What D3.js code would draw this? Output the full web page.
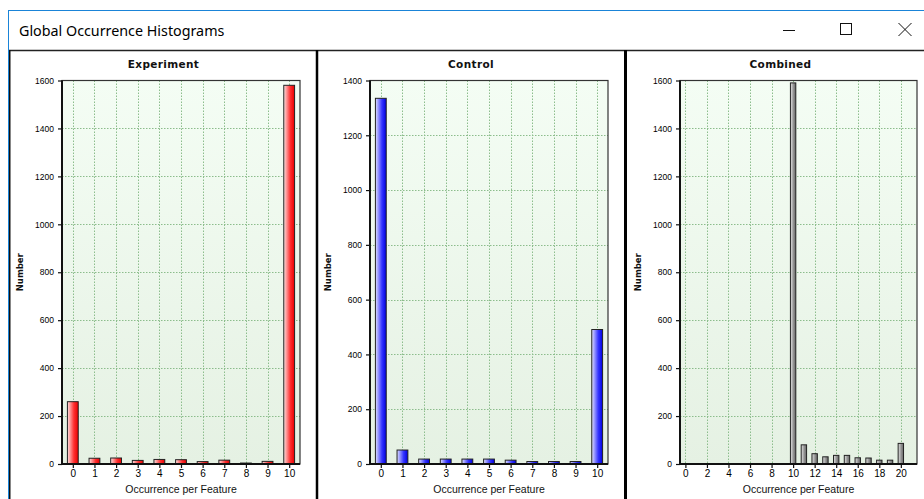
<!DOCTYPE html>
<html>
<head>
<meta charset="utf-8">
<script src="https://cdn.jsdelivr.net/npm/d3@7"></script>
<style>
  html, body { margin: 0; padding: 0; background: #ffffff; }
  svg { display: block; }
</style>
</head>
<body>
<svg id="chart" width="924" height="499"></svg>
<script>
// ---------------- DATA ----------------
const windowTitle = "Global Occurrence Histograms";
const panelTitles = ["Experiment", "Control", "Combined"];
const xAxisTitle = "Occurrence per Feature";
const yAxisTitle = "Number";

const expCategories = [0, 1, 2, 3, 4, 5, 6, 7, 8, 9, 10];
const expValues     = [260, 24, 25, 15, 19, 18, 10, 16, 4, 11, 1580];

const ctrlCategories = [0, 1, 2, 3, 4, 5, 6, 7, 8, 9, 10];
const ctrlValues     = [1335, 51, 18, 18, 18, 18, 14, 9, 9, 9, 491];

const combCategories = [0, 1, 2, 3, 4, 5, 6, 7, 8, 9, 10, 11, 12, 13, 14, 15, 16, 17, 18, 19, 20];
const combValues     = [0, 0, 0, 0, 0, 0, 0, 0, 0, 0, 1590, 80, 43, 30, 36, 36, 26, 25, 16, 16, 86];

const expYTicks  = [0, 200, 400, 600, 800, 1000, 1200, 1400, 1600];
const ctrlYTicks = [0, 200, 400, 600, 800, 1000, 1200, 1400];
const combYTicks = [0, 200, 400, 600, 800, 1000, 1200, 1400, 1600];

const expXTicks  = [0, 1, 2, 3, 4, 5, 6, 7, 8, 9, 10];
const ctrlXTicks = [0, 1, 2, 3, 4, 5, 6, 7, 8, 9, 10];
const combXTicks = [0, 2, 4, 6, 8, 10, 12, 14, 16, 18, 20];

// ---------------- DRAW ----------------
(function () {
const svg = d3.select("#chart");
const defs = svg.append("defs");

function hGrad(id, stops) {
  const g = defs.append("linearGradient").attr("id", id)
    .attr("x1", "0").attr("x2", "1").attr("y1", "0").attr("y2", "0");
  stops.forEach(s => g.append("stop").attr("offset", s[0]).attr("stop-color", s[1]));
}
hGrad("gRed",  [[0, "#fde2e2"], [0.6, "#ff3030"], [1, "#e80000"]]);
hGrad("gBlue", [[0, "#e2e2ff"], [0.6, "#3535ff"], [1, "#0000e0"]]);
hGrad("gGray", [[0, "#e6e6e6"], [0.6, "#8e8e8e"], [1, "#6a6a6a"]]);
const bg = defs.append("linearGradient").attr("id", "gBg")
  .attr("x1", "0").attr("x2", "0").attr("y1", "0").attr("y2", "1");
bg.append("stop").attr("offset", 0).attr("stop-color", "#f4fdf4");
bg.append("stop").attr("offset", 1).attr("stop-color", "#e5f1e3");

// window chrome
svg.append("rect").attr("x", 0).attr("y", 0).attr("width", 924).attr("height", 499).attr("fill", "#ffffff");
svg.append("line").attr("x1", 8).attr("x2", 924).attr("y1", 10.5).attr("y2", 10.5)
  .attr("stroke", "#1a84d8").attr("stroke-width", 1);
svg.append("line").attr("x1", 8.5).attr("x2", 8.5).attr("y1", 10).attr("y2", 499)
  .attr("stroke", "#1a84d8").attr("stroke-width", 1);
svg.append("text").attr("x", 19).attr("y", 35.5)
  .attr("font-family", "'Noto Sans', 'Open Sans', sans-serif").attr("font-size", 14.3)
  .attr("fill", "#000").text(windowTitle);
// window buttons
const btn = svg.append("g").attr("stroke", "#111").attr("stroke-width", 1).attr("fill", "none");
btn.append("line").attr("x1", 783).attr("x2", 795).attr("y1", 30.5).attr("y2", 30.5);
btn.append("rect").attr("x", 840.5).attr("y", 23.5).attr("width", 11).attr("height", 11);
btn.append("line").attr("x1", 898.5).attr("x2", 911.5).attr("y1", 23).attr("y2", 36);
btn.append("line").attr("x1", 911.5).attr("x2", 898.5).attr("y1", 23).attr("y2", 36);

// panel frame lines
svg.append("line").attr("x1", 9).attr("x2", 924).attr("y1", 50.5).attr("y2", 50.5)
  .attr("stroke", "#222").attr("stroke-width", 1.5);
svg.append("line").attr("x1", 9.75).attr("x2", 9.75).attr("y1", 50).attr("y2", 499)
  .attr("stroke", "#111").attr("stroke-width", 1.5);
svg.append("line").attr("x1", 317).attr("x2", 317).attr("y1", 50).attr("y2", 499)
  .attr("stroke", "#000").attr("stroke-width", 2.5);
svg.append("line").attr("x1", 625.5).attr("x2", 625.5).attr("y1", 50).attr("y2", 499)
  .attr("stroke", "#000").attr("stroke-width", 3);

const panels = [
  { title: panelTitles[0], cats: expCategories,  vals: expValues,  yTicks: expYTicks,  xTicks: expXTicks,
    panelCenter: 163.5, left: 62, right: 300, xDomain: [-0.5, 10.5], fill: "url(#gRed)" },
  { title: panelTitles[1], cats: ctrlCategories, vals: ctrlValues, yTicks: ctrlYTicks, xTicks: ctrlXTicks,
    panelCenter: 471,   left: 370, right: 608, xDomain: [-0.5, 10.5], fill: "url(#gBlue)" },
  { title: panelTitles[2], cats: combCategories, vals: combValues, yTicks: combYTicks, xTicks: combXTicks,
    panelCenter: 780.5, left: 680, right: 917, xDomain: [-0.5, 21.5], fill: "url(#gGray)" }
];
const plotTop = 80.5, plotBottom = 464;

panels.forEach(p => {
  const g = svg.append("g");
  const x = d3.scaleLinear().domain(p.xDomain).range([p.left, p.right]);
  const y = d3.scaleLinear().domain([0, d3.max(p.yTicks)]).range([plotBottom, plotTop]);

  // background
  g.append("rect").attr("x", p.left).attr("y", plotTop)
    .attr("width", p.right - p.left).attr("height", plotBottom - plotTop).attr("fill", "url(#gBg)");

  // grid
  const grid = g.append("g").attr("stroke", "#8cbd8c").attr("stroke-width", 1)
    .attr("stroke-dasharray", "1.5,1.5").attr("fill", "none");
  grid.selectAll("line.v").data(p.xTicks).join("line").attr("class", "v")
    .attr("x1", d => Math.round(x(d)) + 0.5).attr("x2", d => Math.round(x(d)) + 0.5)
    .attr("y1", plotTop).attr("y2", plotBottom);
  grid.selectAll("line.h").data(p.yTicks.filter((d, i) => i > 0 && i < p.yTicks.length - 1)).join("line")
    .attr("class", "h")
    .attr("x1", p.left).attr("x2", p.right)
    .attr("y1", d => Math.round(y(d)) + 0.5).attr("y2", d => Math.round(y(d)) + 0.5);

  // frame
  g.append("rect").attr("x", p.left).attr("y", plotTop)
    .attr("width", p.right - p.left).attr("height", plotBottom - plotTop)
    .attr("fill", "none").attr("stroke", "#333").attr("stroke-width", 1.2);

  // bars
  const bw = (x(1) - x(0)) * 0.5;
  g.selectAll("rect.bar").data(p.cats.map((c, i) => ({ c, v: p.vals[i] })).filter(d => d.v > 0))
    .join("rect").attr("class", "bar")
    .attr("x", d => x(d.c) - bw / 2).attr("width", bw)
    .attr("y", d => y(d.v)).attr("height", d => plotBottom - y(d.v))
    .attr("fill", p.fill).attr("stroke", "#222").attr("stroke-width", 1);

  // axes
  const ya = g.append("g").attr("transform", `translate(${p.left},0)`)
    .call(d3.axisLeft(y).tickValues(p.yTicks).tickSize(4).tickPadding(4).tickFormat(d3.format("d")));
  ya.select(".domain").remove();
  ya.selectAll("text").attr("font-family", "'Liberation Sans', Arial, sans-serif")
    .attr("font-size", 8.5).attr("fill", "#000");
  ya.selectAll("line").attr("stroke", "#111").attr("stroke-width", 1.2);

  const xa = g.append("g").attr("transform", `translate(0,${plotBottom})`)
    .call(d3.axisBottom(x).tickValues(p.xTicks).tickSize(4).tickPadding(2).tickFormat(d3.format("d")));
  xa.select(".domain").remove();
  xa.selectAll("text").attr("font-family", "'Liberation Sans Narrow', 'Liberation Sans', Arial, sans-serif")
    .attr("font-size", 10).attr("fill", "#000");
  xa.selectAll("line").attr("stroke", "#111").attr("stroke-width", 1.2);

  // axis lines (thicker)
  g.append("line").attr("x1", p.left).attr("x2", p.left).attr("y1", plotTop).attr("y2", plotBottom + 1)
    .attr("stroke", "#111").attr("stroke-width", 2);
  g.append("line").attr("x1", p.left - 1).attr("x2", p.right).attr("y1", plotBottom).attr("y2", plotBottom)
    .attr("stroke", "#111").attr("stroke-width", 2);

  // titles
  g.append("text").attr("x", p.panelCenter).attr("y", 68).attr("text-anchor", "middle")
    .attr("font-family", "'DejaVu Sans', sans-serif").attr("font-weight", "bold")
    .attr("font-size", 10.5).attr("letter-spacing", 0.35).attr("fill", "#111").text(p.title);
  g.append("text").attr("x", (p.left + p.right) / 2).attr("y", 493).attr("text-anchor", "middle")
    .attr("font-family", "'Liberation Sans', Arial, sans-serif")
    .attr("font-size", 10.5).attr("fill", "#111").text(xAxisTitle);
  g.append("text")
    .attr("transform", `translate(${p.left - 39},${(plotTop + plotBottom) / 2}) rotate(-90)`)
    .attr("text-anchor", "middle")
    .attr("font-family", "'DejaVu Sans', sans-serif").attr("font-weight", "bold")
    .attr("font-size", 8.5).attr("fill", "#111").text(yAxisTitle);
});
})();
</script>
</body>
</html>
